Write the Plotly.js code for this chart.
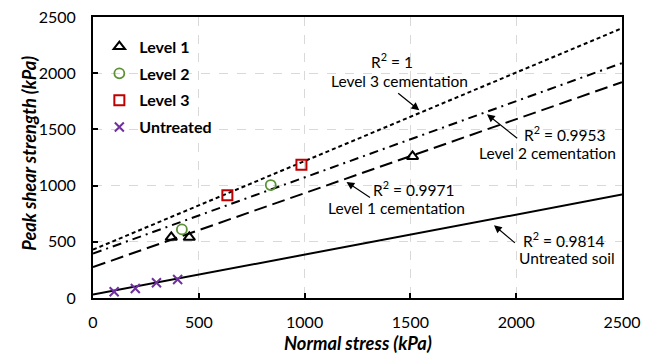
<!DOCTYPE html>
<html><head><meta charset="utf-8">
<script src="https://cdn.plot.ly/plotly-3.0.1.min.js"></script>
<style>html,body{margin:0;padding:0;background:#fff}</style>
</head><body>
<div id="chart" style="width:653px;height:357px"></div>
<script>
// Measured points
const level1X = [370, 455, 1510];
const level1Y = [540, 540, 1260];
const level2X = [420, 840];
const level2Y = [610, 1005];
const level3X = [635, 985];
const level3Y = [915, 1185];
const untreatedX = [100, 200, 300, 400];
const untreatedY = [55, 85, 135, 165];
// Trend lines (end points at x = 0 and x = 2500)
const lineX = [0, 2500];
const fit3Y = [430, 2400];
const fit2Y = [395, 2090];
const fit1Y = [275, 1920];
const fitUY = [30, 920];
const tickVals = [0, 500, 1000, 1500, 2000, 2500];

const FONT = 'Lato, "Open Sans", sans-serif';
const traces = [
  {x: lineX, y: fit3Y, mode: 'lines', showlegend: false, hoverinfo: 'skip',
   line: {color: '#000', width: 2, dash: '4px,3px'}},
  {x: lineX, y: fit2Y, mode: 'lines', showlegend: false, hoverinfo: 'skip',
   line: {color: '#000', width: 2, dash: '9px,5px,2px,5px'}},
  {x: lineX, y: fit1Y, mode: 'lines', showlegend: false, hoverinfo: 'skip',
   line: {color: '#000', width: 2, dash: '13px,6px'}},
  {x: lineX, y: fitUY, mode: 'lines', showlegend: false, hoverinfo: 'skip',
   line: {color: '#000', width: 2}},
  {x: level1X, y: level1Y, mode: 'markers', name: '<b>Level 1</b>', legendgroup: 'a',
   marker: {symbol: 'triangle-up-open', size: 10, color: '#000', line: {width: 2, color: '#000'}}},
  {x: level2X, y: level2Y, mode: 'markers', name: '<b>Level 2</b>', legendgroup: 'b',
   marker: {symbol: 'circle-open', size: 10, color: '#5b9236', line: {width: 1.8, color: '#5b9236'}}},
  {x: level3X, y: level3Y, mode: 'markers', name: '<b>Level 3</b>', legendgroup: 'c',
   marker: {symbol: 'square-open', size: 10, color: '#c00000', line: {width: 2, color: '#c00000'}}},
  {x: untreatedX, y: untreatedY, mode: 'markers', name: '<b>Untreated</b>', legendgroup: 'd',
   marker: {symbol: 'x-thin-open', size: 9, color: '#7030a0', line: {width: 2, color: '#7030a0'}}}
];

function txt(x, y, t) {
  return {x: x, y: y, xref: 'x', yref: 'y', text: t, showarrow: false,
          font: {family: FONT, size: 15.5, color: '#000'}, xanchor: 'center', yanchor: 'middle'};
}
function arr(x, y, ax, ay) {
  return {x: x, y: y, xref: 'x', yref: 'y', ax: ax, ay: ay, text: ' ', showarrow: true,
          font: {size: 1}, arrowhead: 2, arrowsize: 1.3, arrowwidth: 1.2, arrowcolor: '#000'};
}

const layout = {
  width: 653, height: 357,
  margin: {l: 93, r: 31, t: 16.5, b: 59},
  paper_bgcolor: '#fff', plot_bgcolor: '#fff',
  font: {family: FONT, size: 16, color: '#000'},
  showlegend: true,
  legend: {x: 0.012, y: 0.955, xanchor: 'left', yanchor: 'top', bgcolor: 'rgba(0,0,0,0)',
           font: {family: FONT, size: 16, color: '#000'}, tracegroupgap: 3, itemwidth: 30},
  xaxis: {range: [0, 2500], tickvals: tickVals, ticktext: tickVals.map(String),
          showline: true, linecolor: '#000', linewidth: 2, mirror: true,
          ticks: 'inside', ticklen: 5, tickwidth: 2, tickcolor: '#000',
          showgrid: true, gridcolor: '#d9d9d9', griddash: 'dash', gridwidth: 1,
          zeroline: false, ticklabelstandoff: 9, fixedrange: true},
  yaxis: {range: [0, 2500], tickvals: tickVals, ticktext: tickVals.map(String),
          showline: true, linecolor: '#000', linewidth: 2, mirror: true,
          ticks: 'inside', ticklen: 5, tickwidth: 2, tickcolor: '#000',
          showgrid: true, gridcolor: '#d9d9d9', griddash: 'dash', gridwidth: 1,
          zeroline: false, ticklabelstandoff: 12, fixedrange: true},
  annotations: [
    txt(1411, 2113, 'R<sup>2</sup> = 1'),
    txt(1449, 1930, 'Level 3 cementation'),
    txt(2232, 1468, 'R<sup>2</sup> = 0.9953'),
    txt(2147, 1290, 'Level 2 cementation'),
    txt(1517, 974, 'R<sup>2</sup> = 0.9971'),
    txt(1435, 805, 'Level 1 cementation'),
    txt(2226, 524, 'R<sup>2</sup> = 0.9814'),
    txt(2242, 358, 'Untreated soil'),
    arr(1542, 1670, -22.6, -18.3),
    arr(1862, 1634, 31.7, 25),
    arr(1198, 1033, 25, 16.6),
    arr(1895, 648, 22.4, 19),
    {xref: 'paper', yref: 'paper', x: 0.5, y: -0.16, yanchor: 'middle', showarrow: false,
     text: '<b><i>Normal stress (kPa)</i></b>', font: {family: FONT, size: 18.3, color: '#000'}},
    {xref: 'paper', yref: 'paper', x: -0.12, y: 0.515, xanchor: 'center', yanchor: 'middle', textangle: -90,
     showarrow: false, text: '<b><i>Peak shear strength (kPa)</i></b>', font: {family: FONT, size: 18.3, color: '#000'}}
  ]
};
Plotly.newPlot('chart', traces, layout, {displayModeBar: false, staticPlot: true});
</script>
</body></html>
